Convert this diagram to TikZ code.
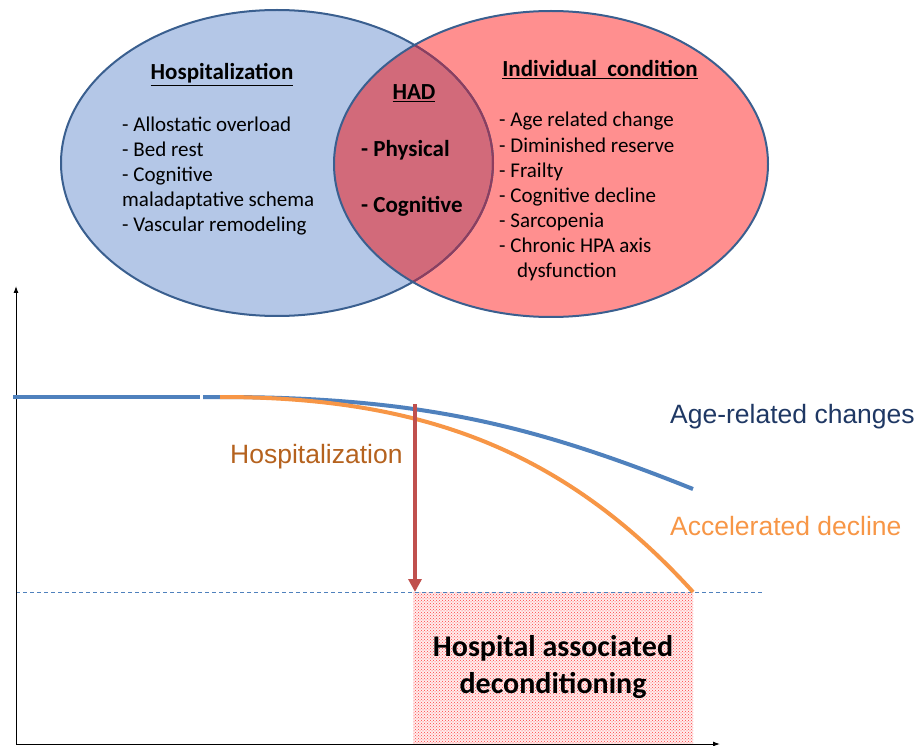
\documentclass[tikz,border=0pt]{standalone}
\usepackage{fontspec}
\setmainfont{Carlito}
\newfontfamily\arialfont{Liberation Sans}
\usetikzlibrary{arrows.meta,patterns}
\definecolor{hospFill}{HTML}{B4C7E7}
\definecolor{indivFill}{HTML}{FF8F8F}
\definecolor{overlapFill}{HTML}{D26A7A}
\definecolor{borderBlue}{HTML}{3A5F8F}
\definecolor{borderPurple}{HTML}{8E3D5E}
\definecolor{ageBlue}{HTML}{4F81BD}
\definecolor{ageText}{HTML}{1F3864}
\definecolor{declineOrange}{HTML}{F79646}
\definecolor{hospText}{HTML}{B5621E}
\definecolor{arrowRed}{HTML}{C0504D}
\begin{document}
\begin{tikzpicture}
[x=1pt,y=-1pt,
  ellipseDecorate/.style={line width=2pt},%
  titleDecorate/.style={font=\fontsize{23}{27}\selectfont\bfseries,anchor=base,inner sep=0pt},%
  listDecorate/.style={font=\fontsize{21}{25}\selectfont,anchor=base west,inner sep=0pt},%
  boldDecorate/.style={font=\fontsize{23}{27}\selectfont\bfseries,anchor=base west,inner sep=0pt},%
  chartLabel/.style={font=\arialfont\fontsize{26.5}{31}\selectfont,anchor=base west,inner sep=0pt},%
  curveDecorate/.style={line width=4pt},%
  axisDecorate/.style={-{Latex[length=7pt,width=5pt]},line width=1pt}]
\useasboundingbox (0,0) rectangle (922,746);
%% venn diagram
\coordinate (hospCentre) at (277,163);
\coordinate (indivCentre) at (551,164);
\fill[hospFill] (hospCentre) ellipse [x radius=216,y radius=153];
\fill[indivFill] (indivCentre) ellipse [x radius=217,y radius=153];
\begin{scope}
  \clip (hospCentre) ellipse [x radius=216,y radius=153];
  \fill[overlapFill] (indivCentre) ellipse [x radius=217,y radius=153];
\end{scope}
\draw[ellipseDecorate,borderBlue] (hospCentre) ellipse [x radius=216,y radius=153];
\begin{scope}
  \clip (indivCentre) ellipse [x radius=217,y radius=153];
  \draw[ellipseDecorate,borderPurple] (hospCentre) ellipse [x radius=216,y radius=153];
\end{scope}
\draw[ellipseDecorate,borderBlue] (indivCentre) ellipse [x radius=217,y radius=153];
%% titles
\node[titleDecorate] (hospTitle) at (222,80) {\underline{Hospitalization}};
\node[titleDecorate] (hadTitle) at (414,100) {\underline{HAD}};
\node[titleDecorate] (indivTitle) at (600,77) {\underline{Individual\hspace{0.45em}condition}};
%% overlap
\node[boldDecorate] (physical) at (361,157) {- Physical};
\node[boldDecorate] (cognitive) at (361,213) {- Cognitive};
%% hospitalization factors
\foreach \nodename/\x/\y/\txt in {
  1/122/132/{- Allostatic overload}, 2/122/157/{- Bed rest},
  3/122/182/{- Cognitive}, 4/122/207/{maladaptative schema},
  5/122/232/{- Vascular remodeling}}
{
  \node[listDecorate] (hosp\nodename) at (\x,\y) {\txt};
}
%% individual factors
\foreach \nodename/\x/\y/\txt in {
  1/499/127/{- Age related change}, 2/499/153/{- Diminished reserve},
  3/499/178/{- Frailty}, 4/499/203/{- Cognitive decline},
  5/499/228/{- Sarcopenia}, 6/499/253/{- Chronic HPA axis},
  7/517/278/{dysfunction}}
{
  \node[listDecorate] (indiv\nodename) at (\x,\y) {\txt};
}
%% deconditioning area
\coordinate (areaTop) at (413,592);
\coordinate (areaBottom) at (693,744);
\fill[red!7] (areaTop) rectangle (areaBottom);
\fill[pattern=crosshatch dots,pattern color=red!75] (areaTop) rectangle (areaBottom);
\node[font=\fontsize{30}{37}\selectfont\bfseries,align=center,inner sep=0pt] (hadArea) at (553,667)
  {Hospital associated\\deconditioning};
%% axes
\coordinate (origin) at (16,744);
\coordinate (yEnd) at (16,286);
\coordinate (xEnd) at (720,744);
\coordinate (floorStart) at (16,592);
\coordinate (floorEnd) at (762,592);
\draw[ageBlue,line width=0.8pt,dash pattern=on 4pt off 3pt] (floorStart) -- (floorEnd);
\draw[axisDecorate] (origin) -- (yEnd);
\draw[axisDecorate] (origin) -- (xEnd);
%% trajectories
\coordinate (bend) at (220,397);
\coordinate (ageEnd) at (693,489);
\coordinate (declineEnd) at (693,592);
\draw[curveDecorate,ageBlue] (13,397) -- (200,397);
\draw[curveDecorate,ageBlue] (203,397) -- (bend)
  .. controls (420,397) and (533,425) .. (ageEnd);
\draw[curveDecorate,declineOrange] (bend)
  .. controls (420,397) and (563,449) .. (declineEnd);
\node[chartLabel,ageText] (ageLabel) at (670,423) {Age-related changes};
\node[chartLabel,declineOrange] (declineLabel) at (670,535) {Accelerated decline};
\node[chartLabel,hospText] (hospLabel) at (230,463) {Hospitalization};
%% hospitalization drop
\coordinate (dropTop) at (415,404);
\draw[-{Triangle[width=13pt,length=13pt]},line width=3.5pt,arrowRed] (dropTop) -- (areaTop -| dropTop);
\end{tikzpicture}
\end{document}
